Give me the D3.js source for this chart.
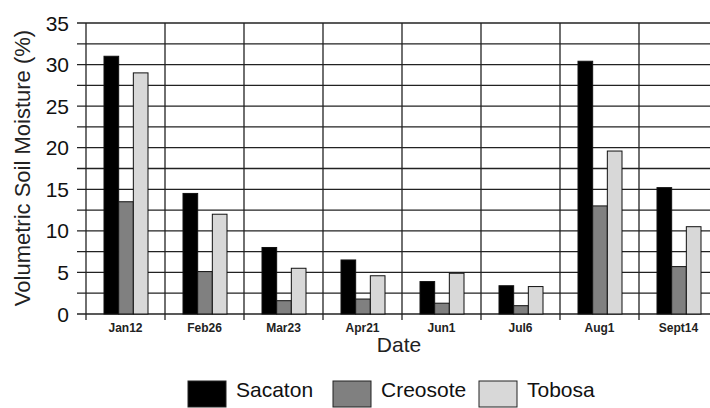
<!DOCTYPE html>
<html>
<head>
<meta charset="utf-8">
<script src="https://cdn.jsdelivr.net/npm/d3@7"></script>
<style>
  body { margin: 0; background: #fff; }
  svg { display: block; font-family: "Liberation Sans", Arial, sans-serif; }
</style>
</head>
<body>
<div id="chart"></div>
<script>
const dates = ["Jan12", "Feb26", "Mar23", "Apr21", "Jun1", "Jul6", "Aug1", "Sept14"];
const series = ["Sacaton", "Creosote", "Tobosa"];
const sacaton = [31.0, 14.5, 8.0, 6.5, 3.9, 3.4, 30.4, 15.2];
const creosote = [13.5, 5.1, 1.6, 1.8, 1.3, 1.0, 13.0, 5.7];
const tobosa = [29.0, 12.0, 5.5, 4.6, 4.9, 3.3, 19.6, 10.5];
const yTicks = [0, 5, 10, 15, 20, 25, 30, 35];
const colors = ["#000000", "#808080", "#d8d8d8"];

const width = 710;
const height = 408;

const svg = d3.select("#chart")
  .append("svg")
  .attr("width", width)
  .attr("height", height);

const x = d3.scaleBand()
  .domain(dates)
  .range([86, 718]);

const xs = d3.scaleBand()
  .domain(series)
  .range([18, 62]);

const y = d3.scaleLinear()
  .domain([0, 35])
  .range([314, 23]);

// horizontal grid every 2.5
svg.append("g")
  .selectAll("line")
  .data(d3.range(0, 35.01, 2.5))
  .enter().append("line")
  .attr("x1", 77)
  .attr("x2", width)
  .attr("y1", d => y(d))
  .attr("y2", d => y(d))
  .attr("stroke", "#222")
  .attr("stroke-width", 1.3);

// vertical grid at category edges, extending below as ticks
const edges = dates.map(d => x(d)).concat([x.range()[1]]);
svg.append("g")
  .selectAll("line")
  .data(edges)
  .enter().append("line")
  .attr("x1", d => d)
  .attr("x2", d => d)
  .attr("y1", y(35))
  .attr("y2", y(0) + 6)
  .attr("stroke", "#222")
  .attr("stroke-width", 1.3);

const table = dates.map((d, i) => ({
  date: d,
  values: [sacaton[i], creosote[i], tobosa[i]]
}));

svg.append("g")
  .selectAll("g")
  .data(table)
  .enter().append("g")
  .attr("transform", d => `translate(${x(d.date)},0)`)
  .selectAll("rect")
  .data(d => d.values.map((v, j) => ({ key: series[j], value: v, idx: j })))
  .enter().append("rect")
  .attr("x", d => xs(d.key))
  .attr("width", xs.bandwidth())
  .attr("y", d => y(d.value))
  .attr("height", d => y(0) - y(d.value))
  .attr("fill", d => colors[d.idx])
  .attr("stroke", "#111")
  .attr("stroke-width", 1);

// y tick labels
svg.append("g")
  .selectAll("text")
  .data(yTicks)
  .enter().append("text")
  .attr("x", 69)
  .attr("y", d => y(d))
  .attr("dy", "0.36em")
  .attr("text-anchor", "end")
  .style("font-size", "21px")
  .style("fill", "#111")
  .text(d => d);

// x tick labels
svg.append("g")
  .selectAll("text")
  .data(dates)
  .enter().append("text")
  .attr("x", d => x(d) + x.bandwidth() / 2)
  .attr("y", 332)
  .attr("text-anchor", "middle")
  .style("font-size", "12px")
  .style("font-weight", "bold")
  .style("fill", "#222")
  .text(d => d);

svg.append("text")
  .attr("transform", "translate(30,168) rotate(-90)")
  .attr("text-anchor", "middle")
  .style("font-size", "22px")
  .style("fill", "#222")
  .text("Volumetric Soil Moisture (%)");

svg.append("text")
  .attr("x", 399)
  .attr("y", 352)
  .attr("text-anchor", "middle")
  .style("font-size", "21px")
  .style("fill", "#222")
  .text("Date");

// legend
const legendX = [188, 333, 479];
const legend = svg.append("g");
legend.selectAll("rect")
  .data(series)
  .enter().append("rect")
  .attr("x", (d, i) => legendX[i])
  .attr("y", 381)
  .attr("width", 38)
  .attr("height", 26)
  .attr("fill", (d, i) => colors[i])
  .attr("stroke", "#222")
  .attr("stroke-width", 1);

legend.selectAll("text")
  .data(series)
  .enter().append("text")
  .attr("x", (d, i) => legendX[i] + 48)
  .attr("y", 397)
  .style("font-size", "21px")
  .style("fill", "#111")
  .text(d => d);
</script>
</body>
</html>
